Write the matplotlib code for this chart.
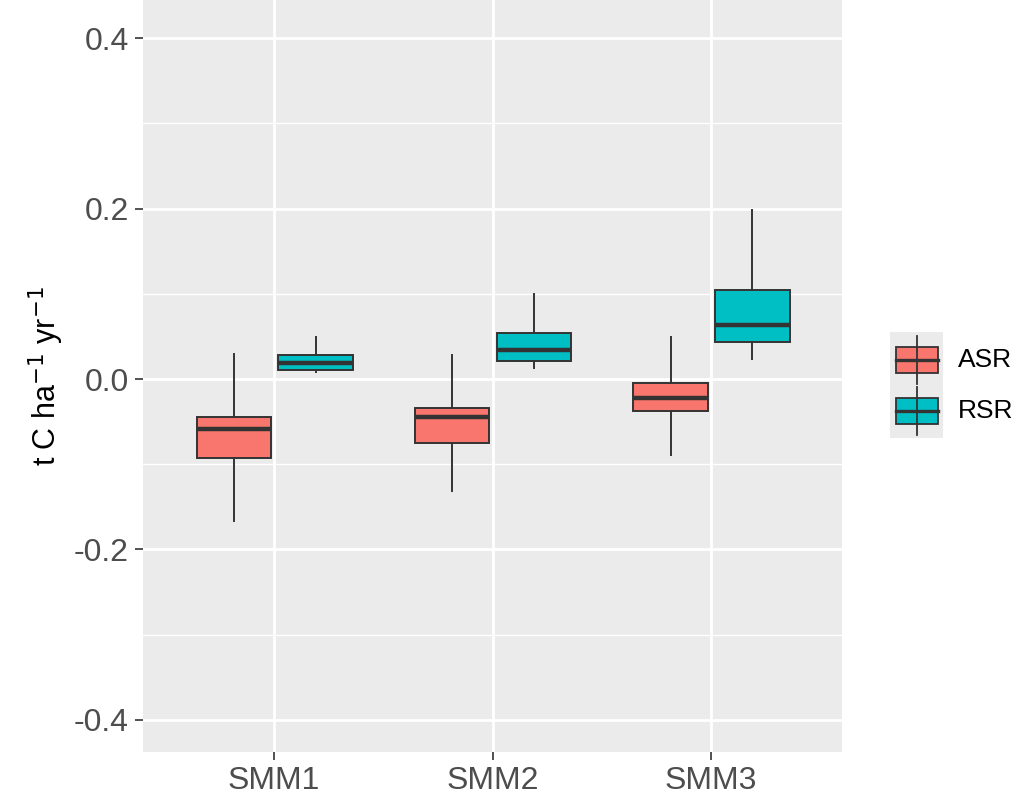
import matplotlib
matplotlib.use("Agg")
import matplotlib.pyplot as plt
from matplotlib.patches import Rectangle

plt.rcParams['font.family'] = ['Liberation Sans', 'DejaVu Sans']

# box statistics (t C ha-1 yr-1)
groups = ['SMM1', 'SMM2', 'SMM3']
series = ['ASR', 'RSR']
colors = {'ASR': '#F8766D', 'RSR': '#00BFC4'}

asr_whislo = [-0.166, -0.131, -0.089]
asr_q1     = [-0.093, -0.075, -0.038]
asr_med    = [-0.059, -0.045, -0.022]
asr_q3     = [-0.044, -0.034, -0.005]
asr_whishi = [0.029, 0.028, 0.049]

rsr_whislo = [0.008, 0.013, 0.024]
rsr_q1     = [0.011, 0.021, 0.043]
rsr_med    = [0.019, 0.034, 0.063]
rsr_q3     = [0.028, 0.054, 0.105]
rsr_whishi = [0.049, 0.100, 0.198]

yticks = [-0.4, -0.2, 0.0, 0.2, 0.4]
minor_y = [-0.3, -0.1, 0.1, 0.3]

def stats(lo, q1, med, q3, hi):
    return [dict(whislo=a, q1=b, med=c, q3=d, whishi=e, fliers=[])
            for a, b, c, d, e in zip(lo, q1, med, q3, hi)]

data = {
    'ASR': stats(asr_whislo, asr_q1, asr_med, asr_q3, asr_whishi),
    'RSR': stats(rsr_whislo, rsr_q1, rsr_med, rsr_q3, rsr_whishi),
}

W, H = 1021, 808
fig = plt.figure(figsize=(W / 100, H / 100), dpi=100)
ax = fig.add_axes((143 / W, 1 - 752 / H, 699 / W, 752 / H))
ax.set_facecolor('#EBEBEB')

xpos = [1, 2, 3]
offsets = {'ASR': -0.185, 'RSR': 0.19}
for s in series:
    pos = [p + offsets[s] for p in xpos]
    ax.bxp(data[s], positions=pos, widths=0.34, patch_artist=True,
           showfliers=False, showcaps=False,
           boxprops=dict(facecolor=colors[s], edgecolor='#333333', linewidth=1.4),
           whiskerprops=dict(color='#333333', linewidth=1.4),
           medianprops=dict(color='#333333', linewidth=3.2, solid_capstyle='butt'),
           zorder=3)

ax.set_xlim(0.4, 3.6)
ax.set_ylim(-0.4376, 0.4447)
ax.set_xticks(xpos)
ax.set_xticklabels(groups)
ax.set_yticks(yticks)
ax.set_yticklabels(['-0.4', '-0.2', '0.0', '0.2', '0.4'])
ax.set_yticks(minor_y, minor=True)
ax.tick_params(axis='y', which='minor', length=0)

ax.grid(True, which='major', color='white', linewidth=2.0, zorder=0)
ax.grid(True, which='minor', axis='y', color='white', linewidth=1.0, zorder=0)
ax.set_axisbelow(True)
for sp in ax.spines.values():
    sp.set_visible(False)

ax.tick_params(axis='both', which='major', length=6, width=1.2, color='#333333',
               labelsize=23, labelcolor='#4D4D4D', pad=4)
ax.set_ylabel(r't C ha$^{-1}$ yr$^{-1}$', fontsize=22, color='black', labelpad=6)

# legend drawn by hand, ggplot style keys
bg_x0, bg_x1 = 890 / W, 943 / W
key_y = [1 - 360 / H, 1 - 411 / H]
half_key = 24 / H
fig.add_artist(Rectangle((bg_x0, 1 - 438 / H), bg_x1 - bg_x0, 106 / H,
                         transform=fig.transFigure, facecolor='#EBEBEB', edgecolor='none'))
cx = (bg_x0 + bg_x1) / 2
bw, bh = 42 / W, 26 / H
for s, yc in zip(series, key_y):
    fig.add_artist(plt.Line2D([cx, cx], [yc - half_key, yc + half_key],
                              transform=fig.transFigure, color='#333333', linewidth=1.3))
    fig.add_artist(Rectangle((cx - bw / 2, yc - bh / 2), bw, bh, transform=fig.transFigure,
                             facecolor=colors[s], edgecolor='#333333', linewidth=1.3))
    fig.add_artist(plt.Line2D([cx - bw / 2, cx + bw / 2], [yc, yc],
                              transform=fig.transFigure, color='#333333', linewidth=2.4))
    fig.text(958 / W, yc, s, fontsize=19, color='black', ha='left', va='center')

fig.savefig('out.png', dpi=100)
